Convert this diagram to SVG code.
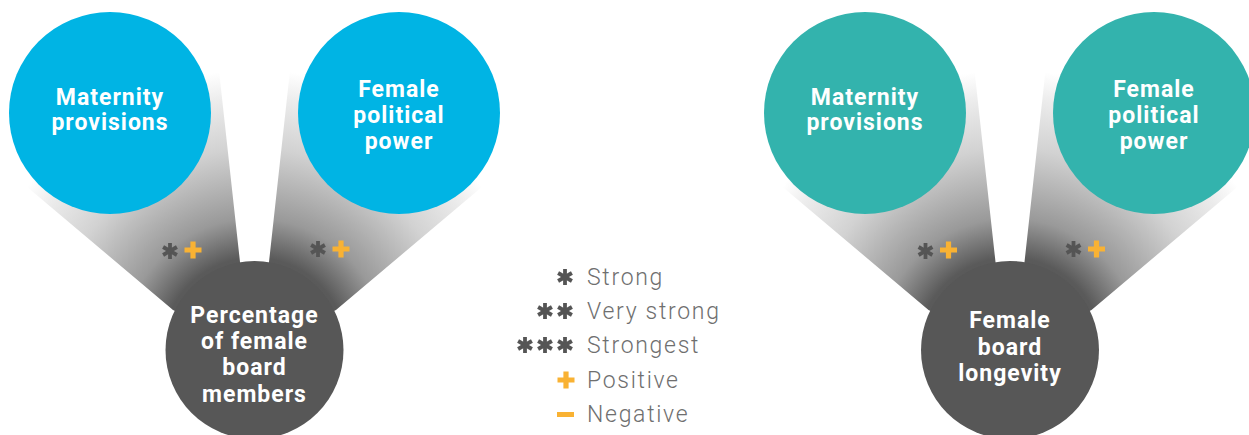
<svg xmlns="http://www.w3.org/2000/svg" xmlns:xlink="http://www.w3.org/1999/xlink" width="1249" height="435" viewBox="0 0 1249 435">
  <defs>
    <style>
      .lbl { font-family: Roboto, "Open Sans", "Liberation Sans", sans-serif; font-weight: 700; font-size: 23px; letter-spacing: 1px; fill: #ffffff; text-anchor: middle; }
      .leg { font-family: Roboto, "Open Sans", "Liberation Sans", sans-serif; font-weight: 300; font-size: 23px; letter-spacing: 1.7px; fill: #6f6f6f; }
      .blue { fill: #00b4e4; }
      .teal { fill: #33b3ad; }
      .dark { fill: #575757; }
      .beam { fill: url(#beamGrad); }
      .ast line { stroke: #555555; stroke-width: 3.8; }
      .plus { fill: #f9b233; }
    </style>
    <radialGradient id="beamGrad" gradientUnits="userSpaceOnUse" cx="254.5" cy="350" r="280">
      <stop offset="0" stop-color="#555555"/>
      <stop offset="0.33" stop-color="#5a5a5a"/>
      <stop offset="0.47" stop-color="#999999"/>
      <stop offset="0.72" stop-color="#d2d2d2"/>
      <stop offset="0.9" stop-color="#ececec"/>
      <stop offset="1" stop-color="#ffffff"/>
    </radialGradient>
    <g id="asterisk" class="ast">
      <line x1="0" y1="-8" x2="0" y2="8"/>
      <line x1="-6.9" y1="-4" x2="6.9" y2="4"/>
      <line x1="-6.9" y1="4" x2="6.9" y2="-4"/>
    </g>
    <path id="plusMark" class="plus" d="M-2.6,-8.5 H2.6 V-2.6 H8.5 V2.6 H2.6 V8.5 H-2.6 V2.6 H-8.5 V-2.6 H-2.6 Z"/>
  </defs>

  <g id="connectors">
    <g id="left-connectors">
      <polygon class="beam" points="20,181 214,25 240,262 254,350 173,310"/>
      <polygon class="beam" points="489,181 295,25 269,262 255,350 336,310"/>
      <use xlink:href="#asterisk" x="170" y="251"/>
      <use xlink:href="#plusMark" x="193" y="250"/>
      <use xlink:href="#asterisk" x="318" y="249"/>
      <use xlink:href="#plusMark" x="341" y="249"/>
    </g>
    <g id="right-connectors" transform="translate(755.5,0)">
      <polygon class="beam" points="20,181 214,25 240,262 254,350 173,310"/>
      <polygon class="beam" points="489,181 295,25 269,262 255,350 336,310"/>
      <use xlink:href="#asterisk" x="170" y="251"/>
      <use xlink:href="#plusMark" x="193" y="250"/>
      <use xlink:href="#asterisk" x="318" y="249"/>
      <use xlink:href="#plusMark" x="341" y="249"/>
    </g>
  </g>

  <g id="node-maternity-1">
    <circle class="blue" cx="110" cy="113" r="101"/>
    <text class="lbl" x="110" y="105">Maternity</text>
    <text class="lbl" x="110" y="130">provisions</text>
  </g>
  <g id="node-political-1">
    <circle class="blue" cx="399" cy="113" r="101"/>
    <text class="lbl" x="399" y="97">Female</text>
    <text class="lbl" x="399" y="123">political</text>
    <text class="lbl" x="399" y="149">power</text>
  </g>
  <g id="node-percentage">
    <circle class="dark" cx="254.5" cy="350" r="89"/>
    <text class="lbl" x="254.5" y="323">Percentage</text>
    <text class="lbl" x="254.5" y="349">of female</text>
    <text class="lbl" x="254.5" y="375">board</text>
    <text class="lbl" x="254.5" y="402">members</text>
  </g>

  <g id="node-maternity-2">
    <circle class="teal" cx="865" cy="113" r="101"/>
    <text class="lbl" x="865" y="105">Maternity</text>
    <text class="lbl" x="865" y="130">provisions</text>
  </g>
  <g id="node-political-2">
    <circle class="teal" cx="1154" cy="113" r="101"/>
    <text class="lbl" x="1154" y="97">Female</text>
    <text class="lbl" x="1154" y="123">political</text>
    <text class="lbl" x="1154" y="149">power</text>
  </g>
  <g id="node-longevity">
    <circle class="dark" cx="1010" cy="350" r="89"/>
    <text class="lbl" x="1010" y="328">Female</text>
    <text class="lbl" x="1010" y="355">board</text>
    <text class="lbl" x="1010" y="381">longevity</text>
  </g>

  <g id="legend">
    <use xlink:href="#asterisk" x="565" y="277"/>
    <use xlink:href="#asterisk" x="545" y="311"/>
    <use xlink:href="#asterisk" x="565" y="311"/>
    <use xlink:href="#asterisk" x="525" y="345"/>
    <use xlink:href="#asterisk" x="545" y="345"/>
    <use xlink:href="#asterisk" x="565" y="345"/>
    <use xlink:href="#plusMark" x="566" y="380"/>
    <rect class="plus" x="557" y="412" width="17" height="5"/>
    <text class="leg" x="587" y="285">Strong</text>
    <text class="leg" x="587" y="319">Very strong</text>
    <text class="leg" x="587" y="353">Strongest</text>
    <text class="leg" x="587" y="388">Positive</text>
    <text class="leg" x="587" y="422">Negative</text>
  </g>
</svg>
